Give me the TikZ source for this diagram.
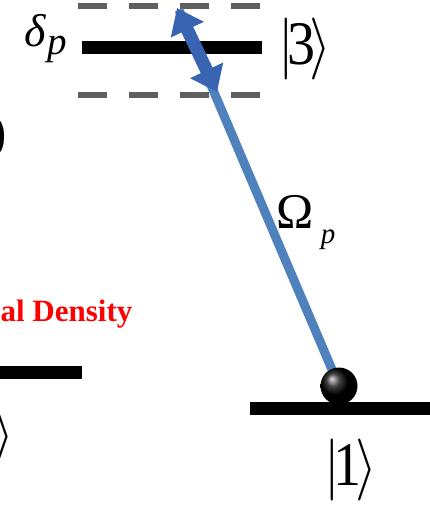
\documentclass[tikz,border=0pt]{standalone}
\usepackage{fontspec}
\setmainfont{Liberation Serif}
\usepackage{amsmath}
\usepackage{tikz}
\usetikzlibrary{arrows.meta,positioning,calc}
\definecolor{probeBlue}{RGB}{79,129,189}
\definecolor{detuneBlue}{RGB}{56,100,178}
\definecolor{dashGray}{RGB}{95,95,95}
\tikzset{
  levelBar/.style={line width=13pt,black},
  dashLevel/.style={line width=6pt,dashGray,dash pattern=on 29pt off 22pt},
  ketLabel/.style={inner sep=0pt,xscale=5.6,yscale=6.2},
  symLabel/.style={inner sep=0pt,scale=#1},
  probeLine/.style={line width=9pt,probeBlue},
  detuneArrow/.style={{Triangle[width=35pt,length=24pt]}-{Triangle[width=35pt,length=24pt]},
                      line width=13pt,detuneBlue},
}

\begin{document}
\begin{tikzpicture}[x=1pt,y=-1pt]
  \useasboundingbox (0,0) rectangle (429,511);
  % levels
  \draw[dashLevel] (78,6) -- (262,6);
  \draw[levelBar] (82,48) -- (262,48);
  \draw[dashLevel] (78,94.5) -- (262,94.5);
  \draw[levelBar] (-5,372) -- (82,372);
  \draw[levelBar] (250,408) -- (435,408);
  % labels
  \node[symLabel=4.6](delta) at (35,31) {\itshape δ};
  \node[symLabel=3.9](deltaSub) at (57,49) {\itshape p};
  \node[ketLabel](ketThree) at (305,49) {$|\mkern-2mu\text{3}\mkern-2mu\rangle$};
  \node[ketLabel](ketOne) at (351,470) {$|\mkern-2mu\text{1}\mkern-2mu\rangle$};
  \node[symLabel=5](omega) at (295,212) {Ω};
  \node[symLabel=2.9](omegaSub) at (328,240) {\itshape p};
  \node[symLabel=5.2,anchor=east](cutParen) at (8,137) {)};
  \node[ketLabel,anchor=east](cutKet) at (15,437) {$\rangle$};
  \node[symLabel=3.1,anchor=base west,text=red,font=\bfseries](density) at (0,321) {al Density};
  % probe transition
  \coordinate (probeTop) at (179,10);
  \coordinate (detUp) at (177,8);
  \coordinate (detDown) at (217,92);
  \node[circle,minimum size=36pt,inner sep=0pt](atom) at (339,386) {};
  \draw[probeLine] (atom.center) -- (probeTop);
  \node[circle,ball color=black,minimum size=37pt,inner sep=0pt] at (atom) {};
  \draw[detuneArrow] (detUp) -- (detDown);
\end{tikzpicture}
\end{document}
